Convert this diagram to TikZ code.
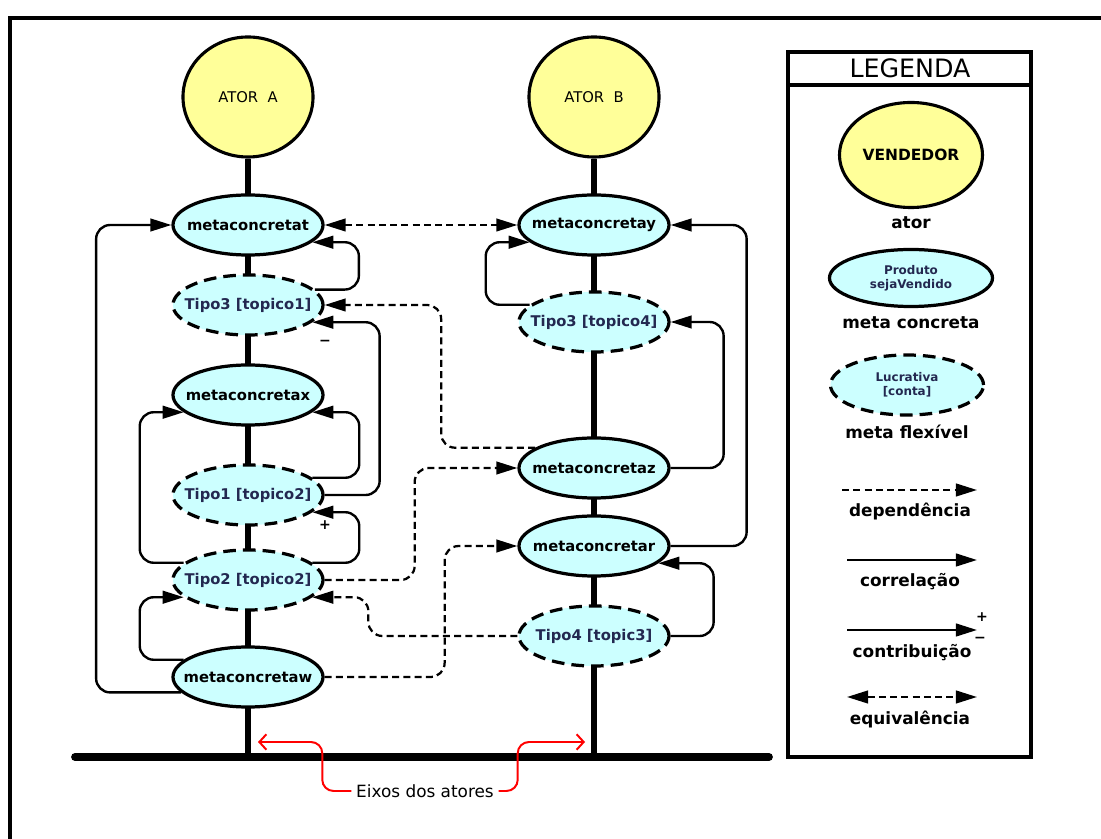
\documentclass[tikz,border=0pt]{standalone}
\usepackage{fontspec}
\setmainfont{DejaVu Sans}
\usetikzlibrary{arrows.meta,shapes.geometric,backgrounds,calc}
\definecolor{amarelo}{RGB}{255,255,153}
\definecolor{ciano}{RGB}{204,255,255}
\definecolor{azul}{RGB}{35,40,80}
\begin{document}
\begin{tikzpicture}[x=0.025cm,y=-0.025cm,
	>={Triangle[length=15pt,width=9pt]},
	ator/.style={ellipse,draw,line width=2.2pt,fill=amarelo,inner sep=0pt,minimum width=3.25cm,minimum height=3cm,font=\fontsize{10.5}{12}\selectfont},
	concreta/.style={ellipse,draw,line width=2.3pt,fill=ciano,minimum width=3.75cm,minimum height=1.5cm,inner xsep=-8pt,inner ysep=0pt,font=\bfseries\fontsize{10.5}{12}\selectfont},
	flexivel/.style={concreta,dash pattern=on 9pt off 5pt,text=azul},
	corr/.style={->,line width=1.7pt,rounded corners=10pt},
	dep/.style={->,line width=1.6pt,dash pattern=on 5pt off 3pt,rounded corners=10pt},
	eixo/.style={line width=3.8pt},
	base/.style={line width=5.5pt,line cap=round},
	vermelho/.style={draw=red,line width=1.4pt,-{Straight Barb[length=5pt,width=11pt]},rounded corners=8pt},
	caixa/.style={line width=2.2pt},
	leg/.style={font=\bfseries\fontsize{12}{14}\selectfont},
	sinal/.style={inner sep=0pt,font=\bfseries\fontsize{10}{12}\selectfont}]
	\useasboundingbox (0,0) rectangle (1101,839);
	\draw[line width=2.4pt] (10,839) |- (1101,18);
	\node[ator] (actA) at (248,97) {ATOR\ \ A};
	\node[ator] (actB) at (594,97) {ATOR\ \ B};
	\node[concreta] (mt) at (248,225) {metaconcretat};
	\node[flexivel] (ft1) at (248,305) {Tipo3 [topico1]};
	\node[concreta] (mx) at (248,395) {metaconcretax};
	\node[flexivel] (ft2) at (248,495) {Tipo1 [topico2]};
	\node[flexivel] (ft3) at (248,580) {Tipo2 [topico2]};
	\node[concreta] (mw) at (248,677) {metaconcretaw};
	\node[concreta] (my) at (594,225) {metaconcretay};
	\node[flexivel] (ft4) at (594,322) {Tipo3 [topico4]};
	\node[concreta] (mz) at (594,468) {metaconcretaz};
	\node[concreta] (mr) at (594,546) {metaconcretar};
	\node[flexivel] (ft5) at (594,636) {Tipo4 [topic3]};
	\coordinate (baseE) at (75,757);
	\coordinate (baseD) at (769,757);
	\begin{pgfonlayer}{background}
		\draw[eixo] (actA) -- (actA |- baseE);
		\draw[eixo] (actB) -- (actB |- baseE);
	\end{pgfonlayer}
	\draw[base] (baseE) -- (baseD);
	\draw[corr] (mw.193) -- ++(-85,0) |- (mt.west);
	\draw[corr] (ft1.13) -- ++(44,0) |- (mt.-15);
	\draw[corr] (ft2.east) -- ++(55,0) |- (ft1.-15);
	\draw[corr] (ft2.15) -- ++(47,0) |- (mx.-15);
	\draw[corr] (ft3.165) -- ++(-44,0) |- (mx.195);
	\draw[corr] (ft3.15) -- ++(47,0) |- (ft2.-15);
	\draw[corr] (mw.165) -- ++(-44,0) |- (ft3.195);
	\draw[corr] (mz.east) -- ++(53,0) |- (ft4.east);
	\draw[corr] (mr.east) -- ++(76,0) |- (my.east);
	\draw[corr] (ft5.east) -- ++(43,0) |- (mr.-15);
	\draw[corr] (ft4.165) -- ++(-44,0) |- (my.195);
	\draw[dep,<->] (mt.east) -- (my.west);
	\draw[dep] (mz.161) -- ++(-94,0) |- (ft1.east);
	\draw[dep] (ft3.east) -- ++(90,0) |- (mz.west);
	\draw[dep] (mw.east) -- ++(120,0) |- (mr.west);
	\draw[dep] (ft5.west) -- ++(-149,0) |- (ft3.-15);
	\node[sinal] (menos) at (325,343) {−};
	\node[sinal] (mais) at (325,525) {+};
	\node[font=\fontsize{12}{14}\selectfont] (eixos) at (425,791) {Eixos dos atores};
	\coordinate (pA) at ($(actA |- baseE)+(10,-15)$);
	\coordinate (pB) at ($(actB |- baseE)+(-9,-15)$);
	\draw[vermelho] (eixos.west) -- ++(-29,0) |- (pA);
	\draw[vermelho] (eixos.east) -- ++(19,0) |- (pB);
	\draw[caixa] (788,52) rectangle (1031,757);
	\draw[caixa] (788,85) -- (1031,85);
	\node[font=\fontsize{18}{20}\selectfont] (legtit) at (910,68) {LEGENDA};
	\node[ator,minimum width=3.575cm,minimum height=2.625cm,font=\bfseries\fontsize{11}{13}\selectfont] (vend) at (911,155) {VENDEDOR};
	\node[leg] (lator) at (911,223) {ator};
	\node[concreta,minimum width=4.075cm,minimum height=1.425cm,align=center,text=azul,font=\bfseries\fontsize{8.5}{10}\selectfont] (prod) at (911,278) {Produto\\sejaVendido};
	\node[leg] (lconc) at (911,323) {meta concreta};
	\node[flexivel,minimum width=3.825cm,minimum height=1.5cm,align=center,font=\bfseries\fontsize{8.5}{10}\selectfont] (lucr) at (907,385) {Lucrativa\\{}[conta]};
	\node[leg] (lflex) at (907,432) {meta flexível};
	\coordinate (dep1) at (842,490);
	\coordinate (dep2) at (977,490);
	\draw[dep] (dep1) -- (dep2);
	\node[leg] (ldep) at (910,512) {dependência};
	\coordinate (cor1) at (847,560);
	\coordinate (cor2) at (977,560);
	\draw[corr] (cor1) -- (cor2);
	\node[leg] (lcor) at (910,582) {correlação};
	\coordinate (con1) at (847,630);
	\coordinate (con2) at (977,630);
	\draw[corr] (con1) -- (con2);
	\node[sinal] (cmais) at (982,617) {+};
	\node[sinal] (cmenos) at (980,640) {−};
	\node[leg] (lcon) at (912,653) {contribuição};
	\coordinate (eq1) at (847,697);
	\coordinate (eq2) at (977,697);
	\draw[dep,<->] (eq1) -- (eq2);
	\node[leg] (leq) at (910,720) {equivalência};
\end{tikzpicture}
\end{document}
